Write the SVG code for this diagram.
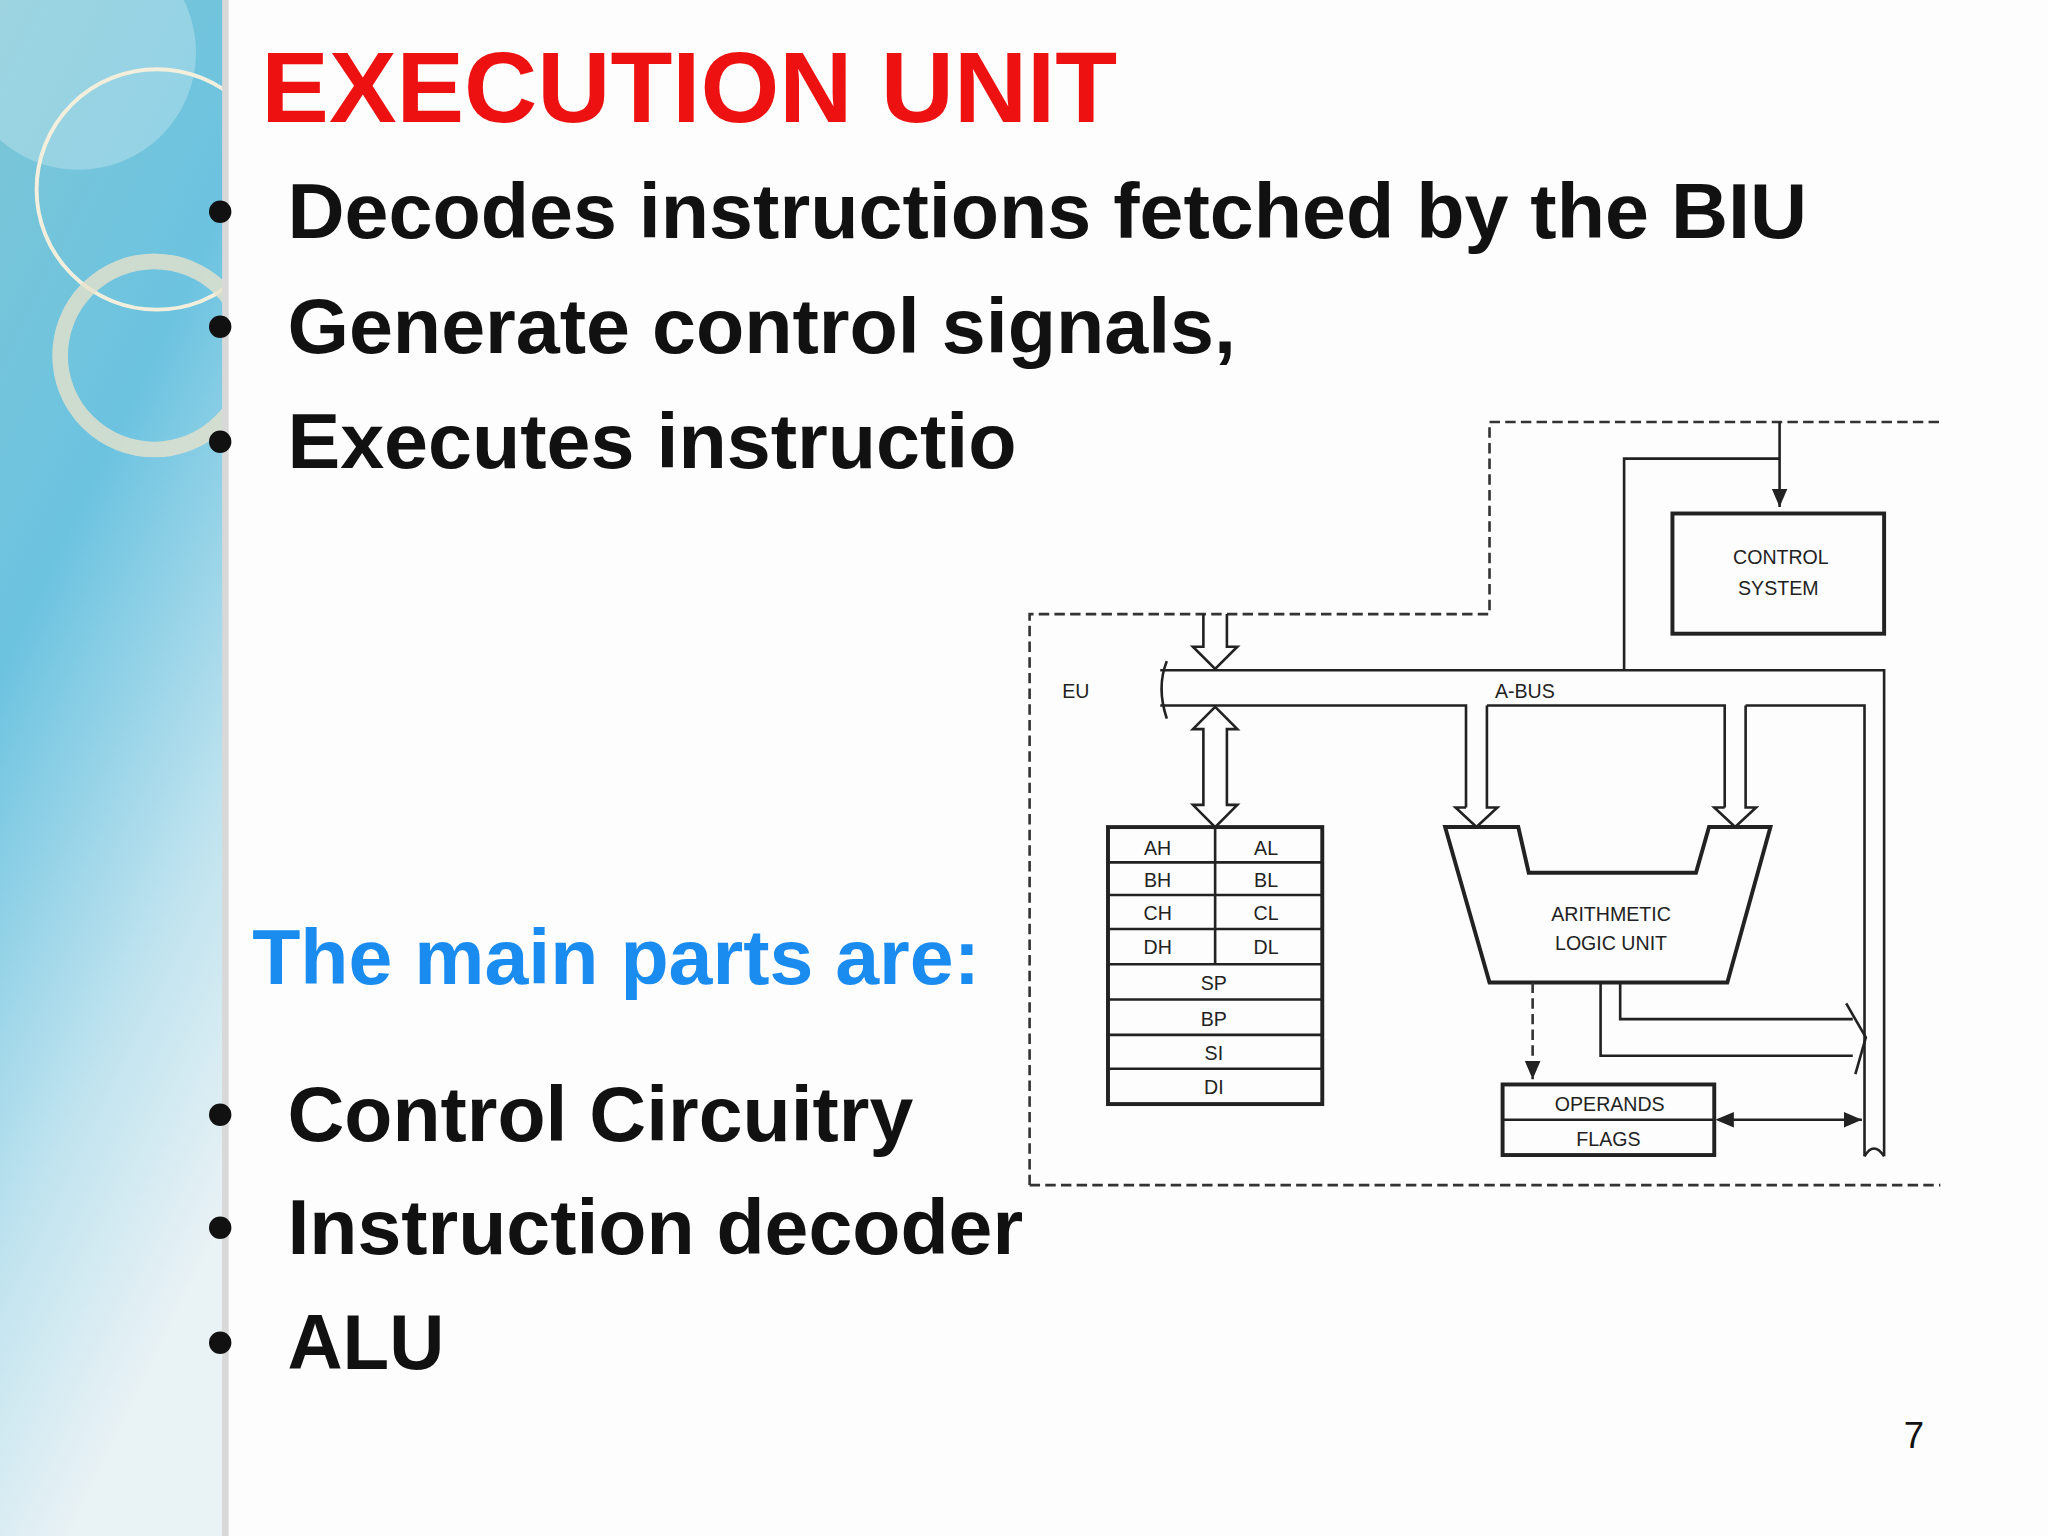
<svg xmlns="http://www.w3.org/2000/svg" width="2048" height="1536" viewBox="0 0 2048 1536">
<defs>
<linearGradient id="side" x1="0" y1="0" x2="0.3" y2="1">
<stop offset="0" stop-color="#7cc6d6"/><stop offset="0.4" stop-color="#6cc3e0"/><stop offset="0.75" stop-color="#bfe3ef"/><stop offset="1" stop-color="#e9f2f5"/>
</linearGradient>
<clipPath id="sc"><rect x="0" y="0" width="172" height="1180"/></clipPath>
<style>
.b{font-family:"Liberation Sans",Arial,sans-serif;font-weight:bold;font-size:60px;fill:#111}
.s{font-family:"Liberation Sans",Arial,sans-serif;font-size:15px;fill:#222}
.ln{fill:none;stroke:#222;stroke-width:2}
.d{fill:none;stroke:#333;stroke-width:2;stroke-dasharray:8 4}
</style>
<marker id="ah" markerWidth="8" markerHeight="8" refX="7" refY="4" orient="auto"><path d="M0,1 L7,4 L0,7 z" fill="#222"/></marker>
<marker id="as" markerWidth="8" markerHeight="8" refX="1" refY="4" orient="auto"><path d="M7,1 L0,4 L7,7 z" fill="#222"/></marker>
</defs>
<rect width="2048" height="1536" fill="#fdfdfd"/>
<g transform="scale(1.3066)">
<g id="sidebar">
<rect x="0" y="0" width="172" height="1180" fill="url(#side)"/>
<g clip-path="url(#sc)">
<circle cx="60" cy="40" r="90" fill="#ffffff" opacity="0.25"/>
<circle cx="120" cy="145" r="92" fill="none" stroke="#f3efdc" stroke-width="3"/>
<circle cx="118" cy="272" r="72" fill="none" stroke="#e6e2cc" stroke-width="12" opacity="0.8"/>
</g>
<rect x="170" y="0" width="5" height="1180" fill="#d8d8d8"/>
</g>
<g id="text">
<text x="200" y="93" font-family="Liberation Sans,Arial,sans-serif" font-weight="bold" font-size="76" fill="#ee1111" textLength="655" lengthAdjust="spacingAndGlyphs">EXECUTION UNIT</text>
<text class="b" x="158" y="182">•</text><text class="b" x="220" y="182" textLength="1163" lengthAdjust="spacingAndGlyphs">Decodes instructions fetched by the BIU</text>
<text class="b" x="158" y="270">•</text><text class="b" x="220" y="270" textLength="726" lengthAdjust="spacingAndGlyphs">Generate control signals,</text>
<text class="b" x="158" y="358">•</text><text class="b" x="220" y="358" textLength="558" lengthAdjust="spacingAndGlyphs">Executes instructio</text>
<text x="193" y="753" font-family="Liberation Sans,Arial,sans-serif" font-weight="bold" font-size="60" fill="#1a8cf0" textLength="557" lengthAdjust="spacingAndGlyphs">The main parts are:</text>
<text class="b" x="158" y="873">•</text><text class="b" x="220" y="873" textLength="479" lengthAdjust="spacingAndGlyphs">Control Circuitry</text>
<text class="b" x="158" y="960">•</text><text class="b" x="220" y="960" textLength="563" lengthAdjust="spacingAndGlyphs">Instruction decoder</text>
<text class="b" x="158" y="1048">•</text><text class="b" x="220" y="1048" textLength="120" lengthAdjust="spacingAndGlyphs">ALU</text>
<text x="1457" y="1108" font-family="Liberation Sans,Arial,sans-serif" font-size="28" fill="#111">7</text>
</g>
<g id="boundary">
<path class="d" d="M788,907 V470 H1140 V323 H1487"/>
<path class="d" d="M788,907 H1485"/>
<text class="s" x="813" y="534">EU</text>
</g>
<g id="control-system">
<rect x="1280" y="393" width="162" height="92" fill="none" stroke="#222" stroke-width="3"/>
<text class="s" x="1363" y="432" text-anchor="middle">CONTROL</text>
<text class="s" x="1361" y="455" text-anchor="middle">SYSTEM</text>
</g>
<g id="registers">
<rect x="848" y="633" width="164" height="212" fill="none" stroke="#222" stroke-width="3"/>
<path class="ln" d="M848,660H1012M848,685H1012M848,711H1012M848,738H1012M848,765H1012M848,792H1012M848,818H1012M930,633V738"/>
<g class="s" text-anchor="middle">
<text x="886" y="654">AH</text><text x="969" y="654">AL</text>
<text x="886" y="679">BH</text><text x="969" y="679">BL</text>
<text x="886" y="704">CH</text><text x="969" y="704">CL</text>
<text x="886" y="730">DH</text><text x="969" y="730">DL</text>
<text x="929" y="758">SP</text><text x="929" y="785">BP</text><text x="929" y="811">SI</text><text x="929" y="837">DI</text>
</g>
</g>
<g id="alu">
<path d="M1106,633 H1162 L1170,668 H1298 L1308,633 H1355 L1322,752 H1140 Z" fill="none" stroke="#222" stroke-width="3"/>
<text class="s" x="1233" y="705" text-anchor="middle">ARITHMETIC</text>
<text class="s" x="1233" y="727" text-anchor="middle">LOGIC UNIT</text>
</g>
<g id="operands-flags">
<rect x="1150" y="830" width="162" height="54" fill="none" stroke="#222" stroke-width="3"/>
<path class="ln" d="M1150,857H1312"/>
<text class="s" x="1232" y="850" text-anchor="middle">OPERANDS</text>
<text class="s" x="1231" y="877" text-anchor="middle">FLAGS</text>
</g>
<g id="connectors">
<text class="s" x="1167" y="534" text-anchor="middle">A-BUS</text>
<path class="ln" d="M888,513 H1442 V885 M888,540 H1122 V618 M1138,540 H1320 V618 M1336,540 H1427 V885"/>
<path class="ln" d="M1427,885 q7,-12 15,0"/>
<path class="ln" d="M893,506 q-8,20 0,44"/>
<path class="ln" d="M1122,618 h-8 l16,15 l16,-15 h-8 V540 M1320,618 h-8 l16,15 l16,-15 h-8 V540"/>
<path class="ln" fill="#fff" d="M921,470 V495 h-8 l17,17 l17,-17 h-8 V470"/>
<path class="ln" fill="#fff" d="M930,541 l-17,17 h8 V616 h-8 l17,17 l17,-17 h-8 V558 h8 Z"/>
<path class="ln" d="M1243,512 V351 H1362" />
<path class="ln" d="M1362,323 V388" marker-end="url(#ah)"/>
<path class="d" d="M1173,752 V826" marker-end="url(#ah)"/>
<path class="ln" d="M1240,752 V780 H1418 M1225,752 V808 H1418 M1413,768 L1428,794 L1420,822"/>
<path class="ln" d="M1315,857 H1425" marker-start="url(#as)" marker-end="url(#ah)"/>
</g>
</g>
</svg>
